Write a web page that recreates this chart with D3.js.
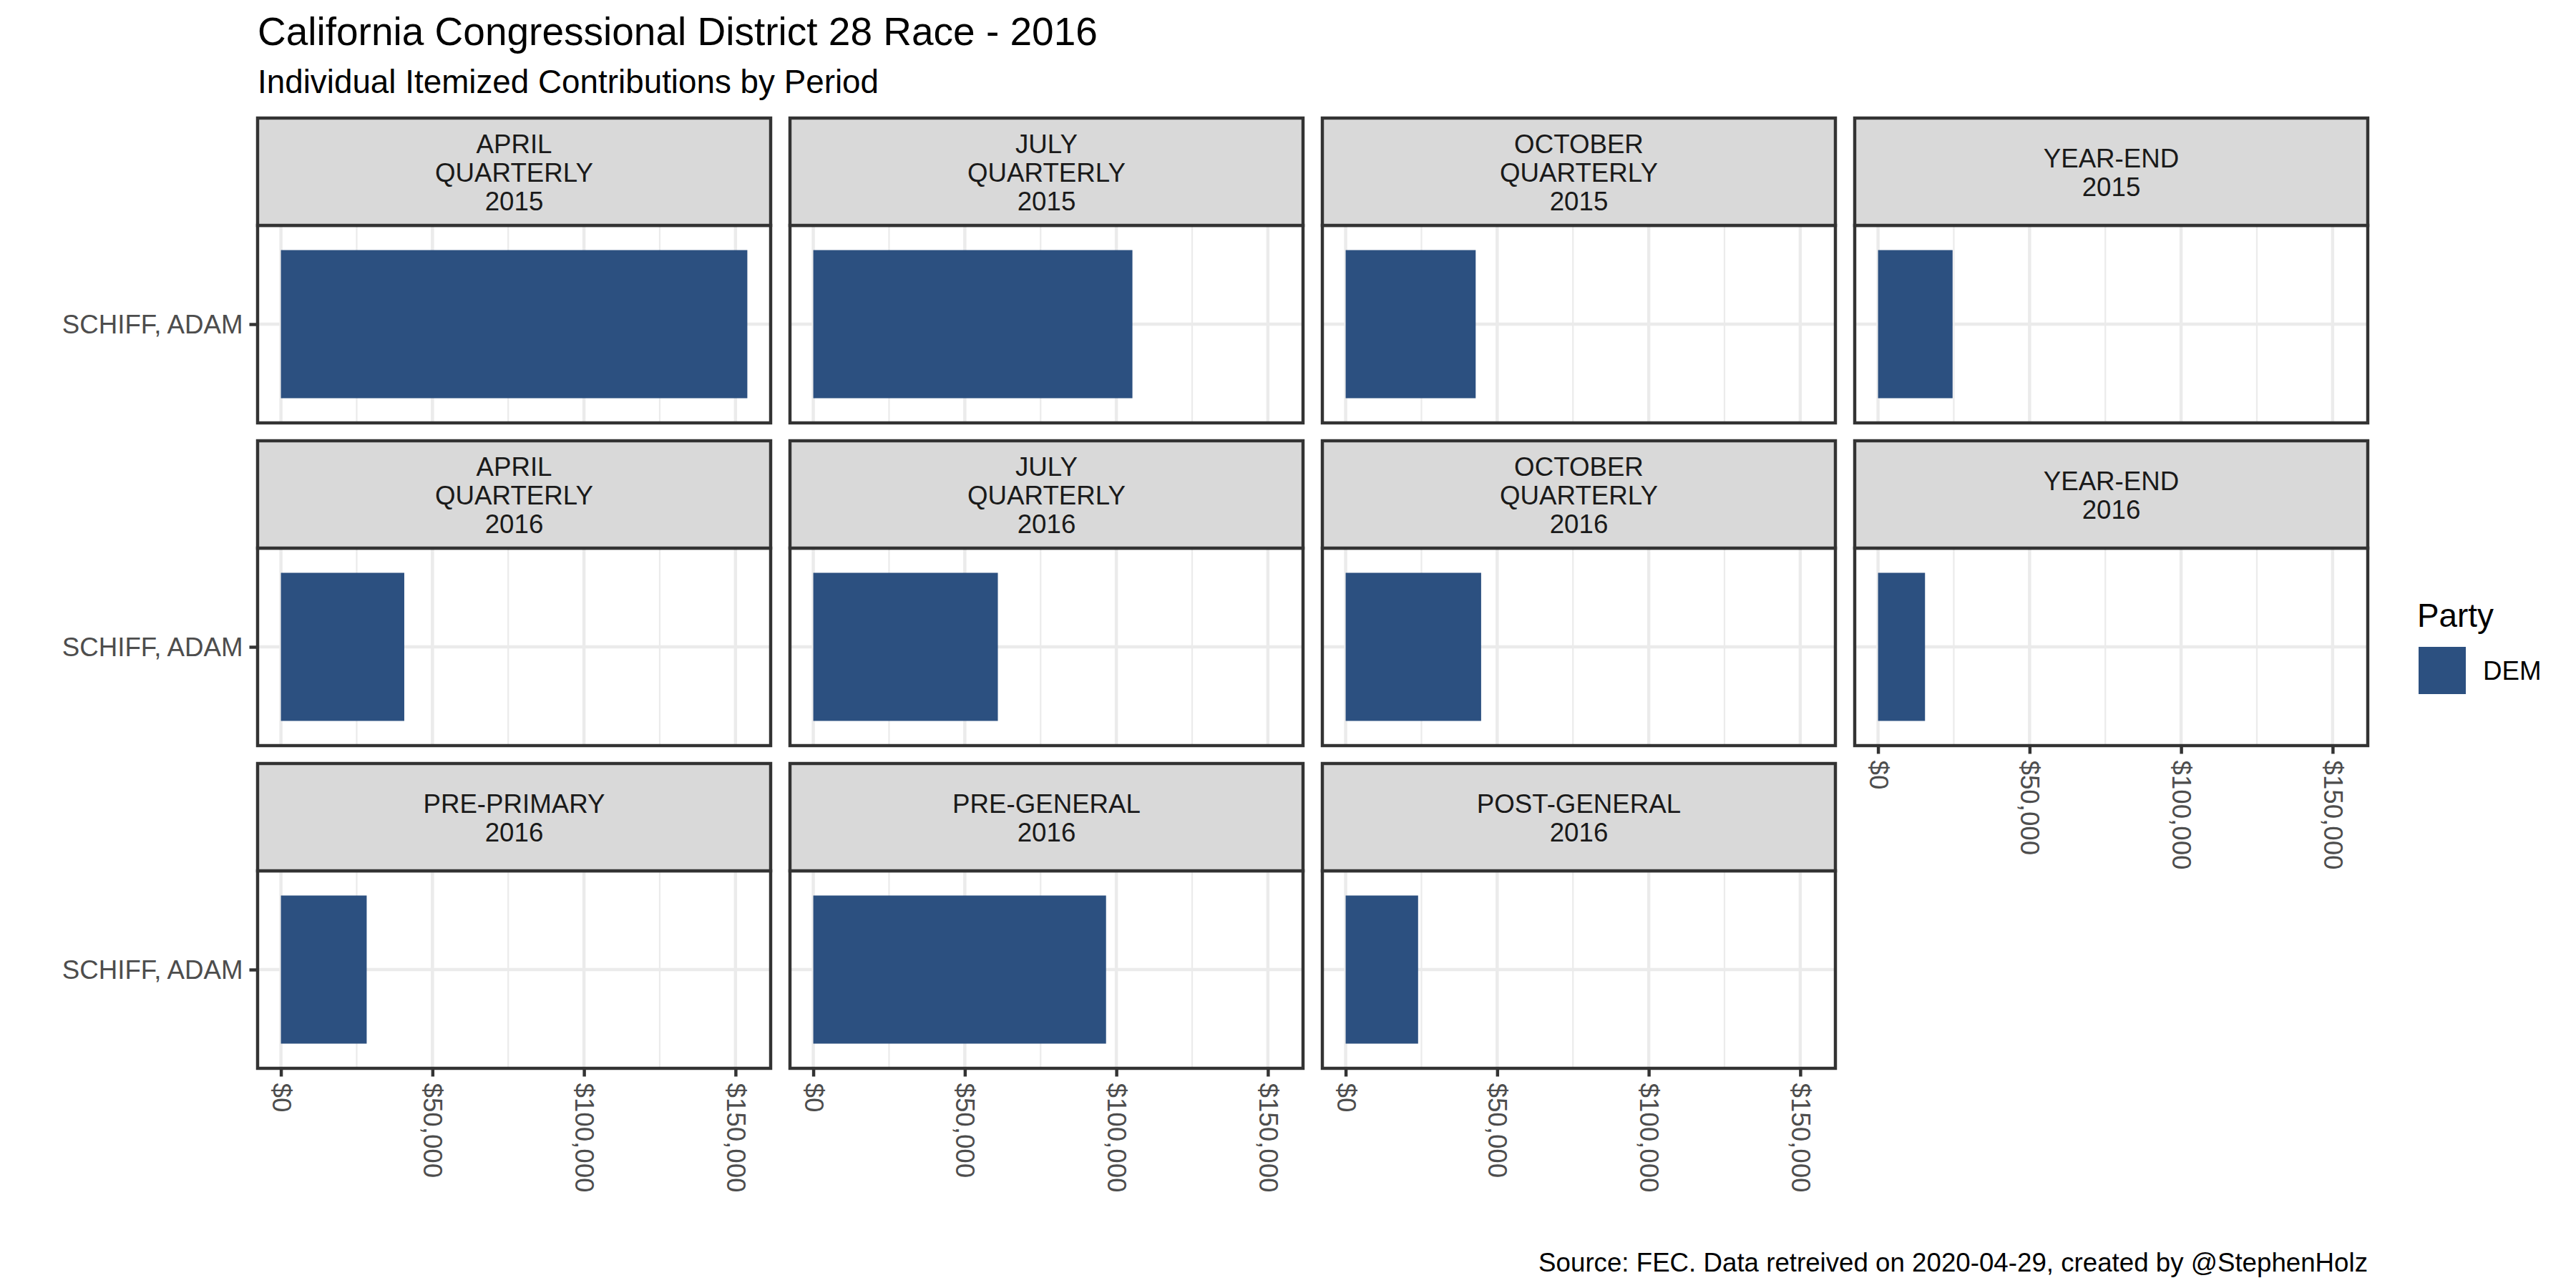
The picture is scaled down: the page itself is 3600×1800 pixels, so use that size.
<!DOCTYPE html>
<html><head><meta charset="utf-8">
<script src="https://cdn.jsdelivr.net/npm/d3@7"></script>
<style>body{margin:0;background:#fff}text{font-family:"Liberation Sans",Arial,sans-serif}</style>
</head><body><svg id="chart" width="3600" height="1800"></svg>
<script>
// ---- data ----
const periods = ["APRIL\nQUARTERLY\n2015", "JULY\nQUARTERLY\n2015", "OCTOBER\nQUARTERLY\n2015", "YEAR-END\n2015",
                 "APRIL\nQUARTERLY\n2016", "JULY\nQUARTERLY\n2016", "OCTOBER\nQUARTERLY\n2016", "YEAR-END\n2016",
                 "PRE-PRIMARY\n2016", "PRE-GENERAL\n2016", "POST-GENERAL\n2016"];
const candidates = ["SCHIFF, ADAM"];
const contributions = [153900, 105300, 42900, 24600, 40700, 60900, 44700, 15500, 28300, 96600, 23900];
const parties = ["DEM"];
const partyColors = ["#2C5080"];
const xTicks = [0, 50000, 100000, 150000];
const xMinorTicks = [25000, 75000, 125000];
const titleText = "California Congressional District 28 Race - 2016";
const subtitleText = "Individual Itemized Contributions by Period";
const captionText = "Source: FEC. Data retreived on 2020-04-29, created by @StephenHolz";

// ---- layout ----
const ncol = 4;
const left0 = 360, top0 = 165;
const panelW = 717, panelH = 276, stripH = 150;
const colPitch = 744, rowPitch = 451;
const lw = 4.45, tickLen = 11.5, tickPad = 9;
const fsSmall = 36.7, fsMid = 45.8, fsTitle = 55;

const svg = d3.select("#chart");
svg.append("rect").attr("width", 3600).attr("height", 1800).attr("fill", "#fff");

const maxV = d3.max(contributions);
const x = d3.scaleLinear().domain([-0.05 * maxV, 1.05 * maxV]).range([0, panelW]);
const y = d3.scalePoint().domain(candidates).range([0, panelH]).padding(0.6);
const barH = 0.9 * y.step();
const color = d3.scaleOrdinal().domain(parties).range(partyColors);

const fmt = d => "$" + d3.format(",")(d);

periods.forEach((p, i) => {
  const col = i % ncol, row = Math.floor(i / ncol);
  const px = left0 + col * colPitch;
  const sy = top0 + row * rowPitch;
  const py = sy + stripH;
  const g = svg.append("g").attr("transform", `translate(${px},${py})`);
  g.append("rect").attr("width", panelW).attr("height", panelH).attr("fill", "#fff");
  // minor grid
  g.selectAll(".minor").data(xMinorTicks).join("line")
    .attr("x1", d => x(d)).attr("x2", d => x(d)).attr("y1", 0).attr("y2", panelH)
    .attr("stroke", "#EBEBEB").attr("stroke-width", lw / 2);
  // major grid
  g.selectAll(".major").data(xTicks).join("line")
    .attr("x1", d => x(d)).attr("x2", d => x(d)).attr("y1", 0).attr("y2", panelH)
    .attr("stroke", "#EBEBEB").attr("stroke-width", lw);
  g.selectAll(".ymajor").data(candidates).join("line")
    .attr("x1", 0).attr("x2", panelW).attr("y1", d => y(d)).attr("y2", d => y(d))
    .attr("stroke", "#EBEBEB").attr("stroke-width", lw);
  // bars
  const rows = candidates.map(c => ({cand: c, value: contributions[i], party: parties[0]}));
  g.selectAll(".bar").data(rows).join("rect")
    .attr("x", d => x(Math.min(0, d.value))).attr("width", d => Math.abs(x(d.value) - x(0)))
    .attr("y", d => y(d.cand) - barH / 2).attr("height", barH)
    .attr("fill", d => color(d.party));
  // border
  g.append("rect").attr("width", panelW).attr("height", panelH)
    .attr("fill", "none").attr("stroke", "#333333").attr("stroke-width", lw);
  // strip
  const s = svg.append("g").attr("transform", `translate(${px},${sy})`);
  s.append("rect").attr("width", panelW).attr("height", stripH)
    .attr("fill", "#D9D9D9").attr("stroke", "#333333").attr("stroke-width", lw);
  const lines = p.split("\n");
  const step = 40;
  lines.forEach((ln, k) => {
    s.append("text").attr("x", panelW / 2)
      .attr("y", stripH / 2 + 1 + (k - (lines.length - 1) / 2) * step)
      .attr("text-anchor", "middle").attr("dominant-baseline", "central")
      .attr("font-size", fsSmall).attr("fill", "#1A1A1A").text(ln);
  });
  // left axis
  if (col === 0) {
    const ax = svg.append("g").attr("transform", `translate(${px},${py})`)
      .call(d3.axisLeft(y).tickSize(tickLen).tickPadding(tickPad));
    ax.select(".domain").remove();
    ax.selectAll(".tick line").attr("stroke", "#333333").attr("stroke-width", lw);
    ax.selectAll(".tick text").attr("font-size", fsSmall).attr("fill", "#4D4D4D")
      .attr("font-family", "Liberation Sans, Arial, sans-serif").attr("dy", "0.35em");
  }
  // bottom axis
  if (i + ncol >= periods.length) {
    const ax = svg.append("g").attr("transform", `translate(${px},${py + panelH})`)
      .call(d3.axisBottom(x).tickValues(xTicks).tickSize(tickLen).tickFormat(fmt));
    ax.select(".domain").remove();
    ax.selectAll(".tick line").attr("stroke", "#333333").attr("stroke-width", lw);
    ax.selectAll(".tick text").attr("y", null).attr("dy", null).attr("x", null)
      .attr("transform", `translate(0,${tickLen + tickPad}) rotate(90)`)
      .attr("text-anchor", "start").attr("dominant-baseline", "central")
      .attr("font-size", fsSmall).attr("fill", "#4D4D4D")
      .attr("font-family", "Liberation Sans, Arial, sans-serif");
  }
});

// titles
svg.append("text").attr("x", left0).attr("y", 63).attr("font-size", fsTitle).attr("fill", "#000").text(titleText);
svg.append("text").attr("x", left0).attr("y", 130).attr("font-size", fsMid).attr("fill", "#000").text(subtitleText);
svg.append("text").attr("x", left0 + 3 * colPitch + panelW).attr("y", 1777).attr("text-anchor", "end")
  .attr("font-size", fsSmall).attr("fill", "#000").text(captionText);

// legend
const lg = svg.append("g").attr("transform", "translate(3378,0)");
lg.append("text").attr("x", 0).attr("y", 876).attr("font-size", fsMid).attr("fill", "#000").text("Party");
parties.forEach((pt, k) => {
  lg.append("rect").attr("x", 2).attr("y", 904 + k * 70).attr("width", 66).attr("height", 66).attr("fill", color(pt));
  lg.append("text").attr("x", 92).attr("y", 937 + k * 70).attr("dominant-baseline", "central")
    .attr("font-size", fsSmall).attr("fill", "#000").text(pt);
});
</script></body></html>
